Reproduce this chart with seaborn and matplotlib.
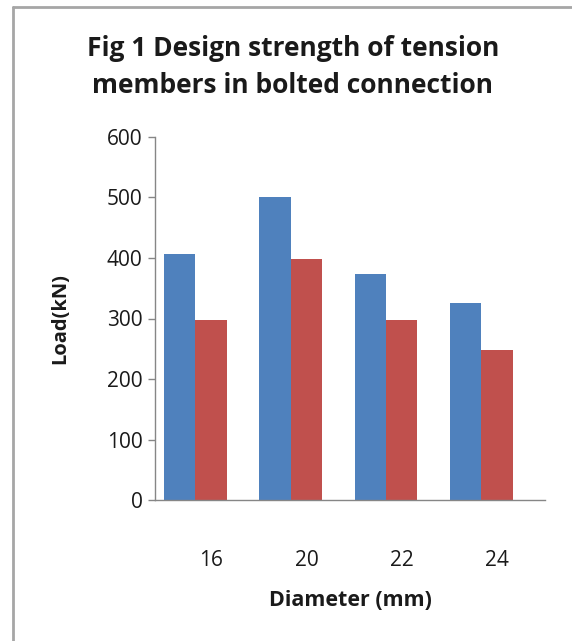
import matplotlib
matplotlib.use("Agg")
import matplotlib.pyplot as plt
import matplotlib.transforms as mtransforms
from matplotlib.lines import Line2D
import seaborn as sns
import pandas as pd

diameters = ["16", "20", "22", "24"]
series_a = [406, 500, 373, 326]
series_b = [298, 398, 298, 248]
y_ticks = [0, 100, 200, 300, 400, 500, 600]

df = pd.DataFrame({
    "Diameter": diameters * 2,
    "Load": series_a + series_b,
    "Series": ["A"] * len(diameters) + ["B"] * len(diameters),
})

sns.set_theme(style="white")
plt.rcParams["font.family"] = ["Open Sans", "DejaVu Sans"]

W, H = 572, 641
fig = plt.figure(figsize=(W / 100, H / 100), dpi=100)
ax = fig.add_axes([155 / W, 1 - 500 / H, (545 - 155) / W, (500 - 137) / H])

sns.barplot(data=df, x="Diameter", y="Load", hue="Series",
            palette=["#4F81BD", "#C0504D"], width=0.66, gap=0,
            saturation=1, legend=False, linewidth=0, ax=ax)

ax.set_ylim(0, 600)
ax.set_xlim(-0.425, 3.67)
ax.set_yticks(y_ticks)
ax.set_yticklabels([str(v) for v in y_ticks], fontsize=15, color="#1a1a1a")
ax.set_xticklabels(diameters, fontsize=15, color="#1a1a1a")
ax.tick_params(axis="x", length=0, pad=36)
ax.tick_params(axis="y", length=5, width=1, color="#868686", pad=4, left=True)

# category labels sit a little right of the group centre
shift = mtransforms.ScaledTranslation(16 / 100, 0, fig.dpi_scale_trans)
for lbl in ax.get_xticklabels():
    lbl.set_transform(lbl.get_transform() + shift)

for side in ["top", "right"]:
    ax.spines[side].set_visible(False)
for side in ["left", "bottom"]:
    ax.spines[side].set_color("#868686")
    ax.spines[side].set_linewidth(1)

ax.set_xlabel("Diameter (mm)", fontsize=15.5, fontweight="bold", labelpad=14, color="#1a1a1a")
ax.set_ylabel("Load(kN)", fontsize=14.5, fontweight="bold", labelpad=26, color="#1a1a1a")

fig.text(293 / W, 1 - 67 / H, "Fig 1 Design strength of tension\nmembers in bolted connection",
         ha="center", va="center", fontsize=19, fontweight="bold",
         linespacing=1.5, color="#1a1a1a")

# chart-area frame (left and top edges)
fig.add_artist(Line2D([12.5 / W, 12.5 / W], [0, 1 - 7 / H], transform=fig.transFigure,
                      color="#A6A6A6", lw=2))
fig.add_artist(Line2D([12.5 / W, 1], [1 - 7 / H, 1 - 7 / H], transform=fig.transFigure,
                      color="#A6A6A6", lw=2))

fig.savefig("out.png", dpi=100, facecolor="white")
